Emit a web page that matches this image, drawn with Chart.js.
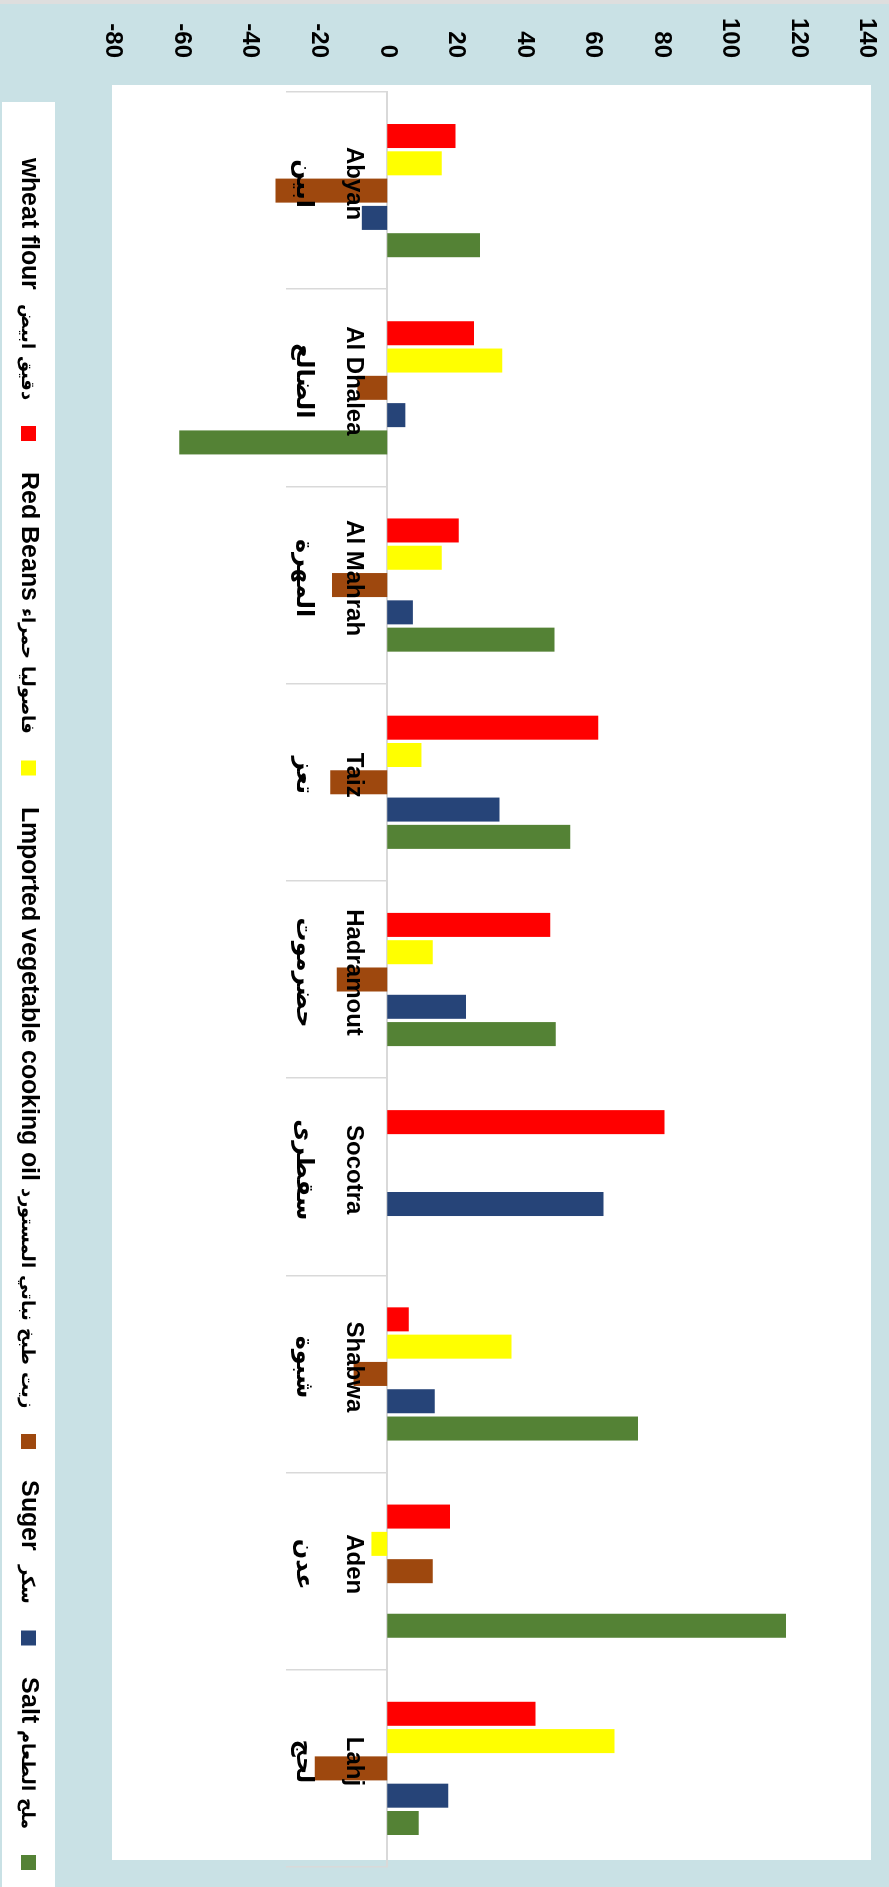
<!DOCTYPE html>
<html>
<head>
<meta charset="utf-8">
<script src="https://cdn.jsdelivr.net/npm/chart.js@4.4.0/dist/chart.umd.min.js"></script>
<style>
  /* legend face: Latin from Liberation, Arabic from DejaVu scaled down to fit the row */
  @font-face { font-family: 'LegendFace'; font-weight: 700;
               src: local('Liberation Sans Bold'), local('LiberationSans-Bold');
               unicode-range: U+0000-024F; }
  @font-face { font-family: 'LegendFace'; font-weight: 700;
               src: local('DejaVu Sans Bold'), local('DejaVuSans-Bold');
               unicode-range: U+0600-06FF, U+FB50-FDFF, U+FE70-FEFF;
               size-adjust: 70%; }
  html, body { margin: 0; padding: 0; background: #c9e1e5; overflow: hidden; width: 889px; height: 1887px; }
  /* the chart is drawn upright and turned a quarter clockwise, like the original sheet */
  #wrap { position: absolute; left: 0; top: 0; width: 1887px; height: 889px;
          transform-origin: 0 0; transform: translate(889px, 0) rotate(90deg); }
</style>
</head>
<body>
<div id="wrap"><canvas id="chart" width="1887" height="889"></canvas></div>
<script>
// Regions (English + Arabic on two lines)
const regions = [
    ['Abyan', 'ابين'],
    ['Al Dhalea', 'الضالع'],
    ['Al Mahrah', 'المهرة'],
    ['Taiz', 'تعز'],
    ['Hadramout', 'حضرموت'],
    ['Socotra', 'سقطرى'],
    ['Shabwa', 'شبوة'],
    ['Aden', 'عدن'],
    ['Lahj', 'لحج']
];

const seriesNames = [
    'wheat flour  دقيق ابيض',
    'Red Beans فاصوليا حمراء',
    'Lmported vegetable cooking oil زيت طبخ نباتي المستورد',
    'Suger  سكر',
    'Salt ملح الطعام'
];

const wheatFlour = [19.9, 25.3, 20.9, 61.6, 47.6, 80.9, 6.3, 18.3, 43.3];
const redBeans   = [15.9, 33.6, 15.9, 10.0, 13.3, null, 36.3, -4.6, 66.3];
const cookingOil = [-32.6, -8.7, -16.1, -16.6, -14.7, null, -9.8, 13.3, -21.1];
const sugar      = [-7.4, 5.3, 7.5, 32.8, 23.0, 63.1, 13.9, null, 17.8];
const salt       = [27.1, -60.7, 48.8, 53.4, 49.2, null, 73.2, 116.4, 9.2];

const valueTicks = [-80, -60, -40, -20, 0, 20, 40, 60, 80, 100, 120, 140];

const colors = ['#ff0000', '#ffff00', '#9e480e', '#264478', '#548235'];
const seriesData = [wheatFlour, redBeans, cookingOil, sugar, salt];

const fontFamily = "'Liberation Sans', 'DejaVu Sans', sans-serif";

// leading spaces give the gap before each legend entry, trailing ones the gap before its box
const legendText = seriesNames.map(n => '\u00a0\u00a0' + n + '\u00a0\u00a0');

const backgroundPlugin = {
    id: 'sheetBackground',
    beforeDraw(chart) {
        const { ctx, chartArea: a, width, height } = chart;
        ctx.save();
        ctx.fillStyle = '#c9e1e5';
        ctx.fillRect(0, 0, width, height);
        ctx.fillStyle = '#dedede';
        ctx.fillRect(0, 0, 4, height);
        ctx.fillStyle = '#ffffff';
        // plot area (the sheet's frame sits a few px before the category bands)
        ctx.fillRect(a.left - 7, a.top - 4, a.right - a.left, a.bottom - a.top + 5);
        // legend box
        ctx.fillRect(102, height - 55, width - 102, 53);
        ctx.restore();
    }
};

function drawChart() {
    const datasets = seriesData.map((d, i) => ({
        label: legendText[i],
        data: d,
        backgroundColor: colors[i],
        borderWidth: 0,
        categoryPercentage: 0.692,
        barPercentage: 0.88
    }));

    new Chart(document.getElementById('chart').getContext('2d'), {
        type: 'bar',
        data: {
            labels: regions,
            datasets: datasets
        },
        options: {
            responsive: false,
            animation: false,
            layout: { autoPadding: false, padding: { left: 0, right: 0, top: 22, bottom: 6 } },
            plugins: {
                tooltip: { enabled: false },
                legend: {
                    position: 'bottom',
                    align: 'start',
                    rtl: true,
                    reverse: true,
                    title: { display: true, text: '', font: { size: 10 }, padding: { top: 0, bottom: 43 } },
                    labels: {
                        boxWidth: 15,
                        boxHeight: 15,
                        padding: 17,
                        color: '#000000',
                        font: { family: "'LegendFace', " + fontFamily, size: 25, weight: 'bold' }
                    }
                }
            },
            scales: {
                x: {
                    position: { y: 0 },
                    grid: {
                        display: true,
                        drawOnChartArea: false,
                        drawTicks: true,
                        tickLength: 100,
                        color: '#d9d9d9',
                        lineWidth: 1.5,
                        offset: true
                    },
                    border: { display: true, color: '#d9d9d9', width: 2 },
                    ticks: {
                        z: 1, // region names sit on top of the bars
                        color: '#000000',
                        autoSkip: false,
                        maxRotation: 0,
                        padding: -92,
                        labelOffset: -7,
                        font: { family: fontFamily, size: 24, weight: 'bold', lineHeight: 2.1 }
                    },
                    afterFit(scale) { scale.height = 0; }
                },
                y: {
                    min: valueTicks[0],
                    max: valueTicks[valueTicks.length - 1],
                    grid: { display: false, drawTicks: false },
                    border: { display: false },
                    ticks: {
                        stepSize: valueTicks[1] - valueTicks[0],
                        color: '#000000',
                        padding: 34,
                        font: { family: fontFamily, size: 24, weight: 'bold' }
                    },
                    afterFit(scale) {
                        scale.width = 92;
                        // the label gap must not push the plot away from the edges
                        scale.paddingTop = 0;
                        scale.paddingBottom = 0;
                    }
                },
                y2: {
                    position: 'right',
                    min: valueTicks[0],
                    max: valueTicks[valueTicks.length - 1],
                    grid: { display: false, drawTicks: false },
                    border: { display: false },
                    ticks: { display: false },
                    afterFit(scale) { scale.width = 20; }
                }
            }
        },
        plugins: [backgroundPlugin]
    });
}

// local faces must be loaded before the canvas measures the legend
Promise.all([
    document.fonts.load("bold 25px 'LegendFace'", 'wheat flour'),
    document.fonts.load("bold 25px 'LegendFace'", 'دقيق ابيض')
]).then(drawChart, drawChart);
</script>
</body>
</html>
